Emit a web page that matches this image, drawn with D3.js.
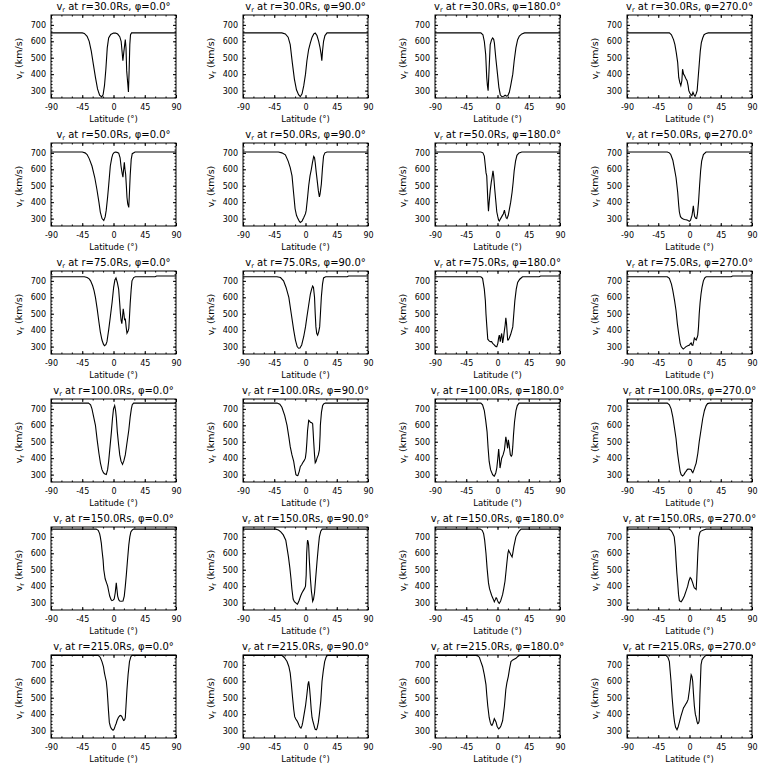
<!DOCTYPE html>
<html><head><meta charset="utf-8">
<script src="https://cdn.jsdelivr.net/npm/d3@7"></script>
<style>body{margin:0;background:#fff}text,tspan{font-family:"DejaVu Sans",sans-serif;fill:#000}</style>
</head><body>
<script>
const radii = [30, 50, 75, 100, 150, 215];
const phis = [0, 90, 180, 270];
const xTicks = [-90, -45, 0, 45, 90];
const yTicks = [300, 400, 500, 600, 700];
const yDomain = [255, 760];

// [latitude, v_r] pairs per panel
const v_r30_p0 = [[-90,651],[-45,651],[-42,648],[-38,630],[-35,600],[-32,540],[-29,460],[-26,380],[-23,310],[-20,272],[-17,262],[-15,275],[-13,330],[-11,430],[-9,560],[-7,620],[-4,642],[0,650],[3,650],[6,644],[9,628],[11,600],[12.5,530],[13.5,482],[15,540],[17,610],[18,560],[19,420],[20.5,345],[21.5,292],[22.5,420],[23.5,580],[24.5,640],[26,651],[90,651]];
const v_r30_p90 = [[-90,651],[-34,651],[-29,645],[-25,625],[-22,580],[-19,470],[-16,370],[-13,305],[-10,275],[-7.5,263],[-5,280],[-2.5,330],[0,400],[2,480],[4.5,550],[7,590],[9.5,625],[12,645],[14,650],[16.5,635],[19,600],[21,560],[22.5,520],[23.5,482],[24.5,540],[26,600],[28,635],[31,651],[90,651]];
const v_r30_p180 = [[-90,651],[-24,651],[-21,640],[-19,600],[-17,520],[-15.5,380],[-14.5,330],[-13.5,300],[-12,440],[-10.5,580],[-8.5,610],[-7,620],[-5.5,612],[-4.5,590],[-2.5,500],[0,400],[2,320],[4,275],[6,264],[9,266],[11,272],[13,266],[15,270],[17,290],[19,330],[22,400],[24,480],[26.5,560],[29,610],[31.5,632],[35,645],[39,651],[90,651]];
const v_r30_p270 = [[-90,651],[-29,651],[-26,640],[-23,610],[-21,580],[-19,530],[-17,470],[-15.5,380],[-14,350],[-12.5,330],[-11,360],[-10,430],[-8.5,400],[-7,390],[-5.5,375],[-3.5,360],[-2,330],[-1,300],[0.5,285],[2,275],[3.5,270],[5,290],[6.5,275],[8,265],[9.5,280],[11,300],[12.5,380],[14,460],[15.5,540],[17,590],[19,620],[21,640],[24,648],[27,651],[90,651]];

const v_r50_p0 = [[-90,705],[-45,705],[-41,700],[-38,690],[-35,665],[-31,620],[-27,550],[-24,480],[-21,400],[-19,340],[-16.5,300],[-14,288],[-12,310],[-10.5,350],[-8.5,430],[-7,500],[-4.6,620],[-2.5,670],[-1,692],[1,703],[3,705],[5,703],[7.5,698],[9.5,670],[10.8,620],[12.5,575],[13.6,552],[14.6,600],[15.6,642],[16.5,600],[17.5,570],[18.5,500],[19.4,430],[20.5,390],[22,368],[23,460],[24,560],[25.5,660],[27,695],[31,705],[90,705]];
const v_r50_p90 = [[-90,705],[-39,705],[-34,700],[-29,688],[-25,650],[-22,610],[-19.4,560],[-17,450],[-15,360],[-13,320],[-11,300],[-9,285],[-7.5,277],[-5,285],[-2.6,305],[0,330],[1,350],[3,430],[4.6,500],[6.5,560],[8.4,600],[10,640],[11.8,678],[13,670],[14,640],[15.5,580],[16.6,540],[18.5,470],[20,432],[21,450],[22.8,510],[24.5,610],[26,680],[28,700],[31,705],[90,705]];
const v_r50_p180 = [[-90,705],[-24,705],[-21,700],[-19,680],[-17.5,620],[-16.5,578],[-15.5,560],[-14,420],[-13,345],[-12,400],[-10.5,470],[-9,520],[-7.5,560],[-6.5,590],[-5.5,560],[-4,480],[-2.5,410],[-1,340],[0.5,310],[1.5,292],[2.6,286],[4.5,300],[6.5,315],[8.5,330],[10,352],[11,330],[12.5,305],[13.7,300],[15.5,320],[17,355],[19,400],[21,460],[22.5,520],[24,590],[26,650],[28,685],[31,700],[35,705],[90,705]];
const v_r50_p270 = [[-90,705],[-32,705],[-29,700],[-27,690],[-24,655],[-21.5,600],[-19.4,550],[-17,460],[-15.5,380],[-14.6,340],[-13,312],[-11,302],[-9,298],[-7.4,295],[-5,293],[-2.6,290],[-0.2,283],[1.5,290],[3.6,320],[4.5,345],[5.5,378],[6.5,340],[7.4,312],[9,302],[10.3,300],[11.5,330],[13,400],[14.5,500],[16,590],[17.5,650],[20,690],[23.8,705],[90,705]];

const v_r75_p0 = [[-90,725],[-42,725],[-38,720],[-35,712],[-33,700],[-30,670],[-28,640],[-26,600],[-23.5,530],[-21,450],[-19,390],[-16.6,340],[-14.5,315],[-13,305],[-11,312],[-9.4,330],[-7,400],[-4.6,480],[-2,570],[0.2,660],[2,705],[3.6,718],[5.5,690],[7.4,650],[9,560],[10,500],[11,460],[12,440],[13,480],[14,530],[15,500],[16,460],[17,470],[18.2,420],[19.4,382],[21,395],[22,410],[23,480],[24,560],[25.5,650],[26.6,700],[29,720],[31.4,725],[60,725],[62,730],[90,730]];
const v_r75_p90 = [[-90,725],[-41,725],[-36,720],[-31.6,700],[-28,660],[-24,600],[-20.5,500],[-17,400],[-14.5,340],[-12,300],[-10,290],[-8,292],[-5.5,310],[-2.6,360],[0,420],[2,480],[4.5,550],[7,620],[8.8,650],[10.3,668],[11.5,660],[13,600],[14,500],[15,420],[16.2,380],[17.5,370],[19,390],[20.4,420],[21.5,500],[22.8,600],[24.5,680],[26,718],[29,725],[60,725],[62,730],[90,730]];
const v_r75_p180 = [[-90,725],[-24,725],[-21.5,715],[-19,650],[-17.5,580],[-16.6,500],[-15.3,420],[-14,345],[-12,335],[-10.4,330],[-8.5,330],[-7,320],[-5,312],[-3.6,305],[-2,300],[-1,300],[0.5,320],[1.5,350],[2.6,370],[3.4,350],[4,330],[5,360],[6,380],[6.8,350],[7.4,322],[8.5,350],[10,400],[11,430],[12,475],[13,440],[14,380],[14.6,340],[15.6,340],[17,352],[19,375],[22,420],[23.5,500],[25,580],[27,650],[29,690],[32,710],[36,725],[60,725],[62,730],[90,730]];
const v_r75_p270 = [[-90,725],[-32,725],[-29,715],[-26,680],[-24,640],[-21.5,580],[-19.4,520],[-17.5,440],[-15.6,380],[-13.5,320],[-12,300],[-10.5,292],[-9,285],[-7,292],[-5,300],[-2.5,305],[0,310],[1.2,318],[2.4,322],[3.5,310],[4.8,308],[6,330],[7,352],[8.3,345],[9.6,340],[11,355],[12,370],[13,420],[14,500],[15.3,570],[16.6,620],[18,660],[20,700],[22,718],[24,725],[60,725],[62,730],[90,730]];

const v_r100_p0 = [[-90,735],[-36,735],[-33,725],[-31,700],[-28.5,650],[-26,600],[-23.5,510],[-21,430],[-18.8,370],[-16.6,330],[-14.5,312],[-13,305],[-10.4,300],[-8.5,330],[-7,380],[-5,470],[-3,560],[-1.5,640],[0,700],[1.7,720],[3,690],[4,650],[5.5,560],[7.4,480],[9,420],[10.8,382],[13,362],[15,385],[17,420],[19,480],[22,570],[24,650],[25.7,700],[27,725],[29,735],[90,735]];
const v_r100_p90 = [[-90,735],[-41,735],[-37,728],[-34,710],[-30,660],[-26.6,600],[-24,530],[-22,470],[-19.5,420],[-17,380],[-15.5,340],[-13.8,300],[-12,294],[-11,295],[-9,320],[-7.4,350],[-5.5,360],[-4,372],[-2,385],[-0.2,400],[1,440],[2,500],[3,570],[4.6,630],[6,625],[7,618],[9,615],[10.3,610],[11,560],[11.8,500],[13,420],[14,372],[15.2,380],[16.6,400],[18.5,420],[20,450],[21,540],[21.4,600],[23,680],[24.7,720],[26.5,732],[28.6,735],[90,735]];
const v_r100_p180 = [[-90,735],[-24,735],[-21.5,725],[-19,690],[-17,630],[-15,560],[-13.5,460],[-12,380],[-10,330],[-7,300],[-5.5,292],[-4.6,290],[-2.5,310],[-1,340],[0.5,400],[1.7,455],[2.7,400],[3.6,340],[4.5,360],[6,400],[8,420],[10,450],[11,490],[12,530],[13.2,500],[14.6,460],[15.6,512],[16.8,480],[18.5,420],[19.8,412],[21,420],[22,470],[23,540],[24.5,620],[26.6,690],[28.5,720],[31,735],[90,735]];
const v_r100_p270 = [[-90,735],[-32,735],[-29,725],[-26.5,700],[-24,650],[-21.5,580],[-19.4,520],[-17.5,440],[-15.6,380],[-13.5,320],[-12,300],[-10,292],[-8,300],[-6,315],[-5,320],[-3,332],[-1,334],[1,333],[2.4,330],[3.6,318],[4.8,312],[6.5,330],[8,350],[9.6,370],[12,430],[14,500],[16.5,570],[19,640],[21.5,690],[24,720],[26,732],[28.6,735],[90,735]];

const v_r150_p0 = [[-90,747],[-25,747],[-22,740],[-20,720],[-19,700],[-17.5,660],[-16.6,620],[-15,560],[-14,500],[-12,445],[-10,420],[-8.4,400],[-6.5,360],[-5.5,340],[-3.5,318],[-2.2,312],[-0.5,315],[1,322],[2.5,360],[4,420],[5,380],[6,340],[7.5,318],[8.9,310],[11,308],[13.7,310],[15.5,340],[17,400],[18.5,470],[20,550],[22,650],[23.5,700],[25,730],[27,742],[29,747],[90,747]];
const v_r150_p90 = [[-90,747],[-43,747],[-39,742],[-35.6,730],[-32,712],[-28.4,680],[-26.5,630],[-24.6,580],[-22.5,510],[-21,450],[-19.5,380],[-17.8,322],[-16,305],[-14,298],[-12.5,292],[-11.6,290],[-9.5,310],[-7,340],[-5.5,355],[-3.6,370],[-1.5,385],[0,400],[1,470],[1.7,600],[2.5,660],[3,680],[3.8,670],[4.5,650],[5.5,560],[7,450],[8.5,370],[9.4,340],[10.3,308],[11.5,320],[13,360],[14.5,440],[16.6,550],[18.5,640],[20,700],[22,735],[24,747],[90,747]];
const v_r150_p180 = [[-90,747],[-25,747],[-22,740],[-20,720],[-18.5,680],[-16.6,600],[-15,510],[-13,420],[-11.5,385],[-10.4,370],[-8.5,345],[-7,330],[-5.5,315],[-4.6,305],[-3.2,318],[-2,330],[-1,325],[0,312],[1.5,300],[2.6,295],[4.5,310],[6,330],[7.4,350],[9,385],[10.8,430],[12.5,500],[13.7,550],[15,600],[16,618],[17,610],[18.2,600],[19.4,590],[21,578],[22,600],[23.5,640],[25,670],[26.5,700],[29,720],[31.5,737],[34,747],[90,747]];
const v_r150_p270 = [[-90,747],[-30,747],[-27,740],[-24.5,725],[-22,700],[-20.5,640],[-19.4,560],[-18.2,480],[-17,420],[-15.8,350],[-14.6,312],[-13,307],[-12,305],[-10,318],[-7.4,340],[-5,370],[-2.6,400],[-1,430],[1,452],[2.5,445],[4.6,420],[6,400],[7,390],[8.5,385],[9.6,380],[10.5,450],[12,600],[13.4,700],[15,728],[16.6,735],[20,742],[24,747],[90,747]];

const v_r215_p0 = [[-90,758],[-22,758],[-19,745],[-16.6,720],[-14.5,690],[-13,650],[-11.5,620],[-10.4,600],[-9.2,550],[-8.4,500],[-7.2,420],[-6,350],[-4.5,325],[-3,312],[-1.5,305],[-0.6,302],[1,310],[2.6,330],[4,345],[5,360],[7,380],[8.9,390],[10.5,392],[12,385],[13.5,370],[14.6,362],[16,365],[17,380],[18,450],[19.4,550],[21,640],[23,720],[25,750],[26.6,758],[90,758]];
const v_r215_p90 = [[-90,758],[-34,758],[-30.5,745],[-28,730],[-26.6,720],[-24,690],[-22,650],[-20.5,590],[-18.6,500],[-17,430],[-15.6,385],[-14,370],[-12,358],[-10.5,345],[-9,330],[-7.5,318],[-6.5,315],[-5,330],[-4,350],[-2,400],[0,450],[2,520],[3.5,580],[4.6,600],[5.8,560],[7,500],[8.2,430],[9.4,380],[10.5,360],[11.8,340],[13,320],[14,308],[15.5,305],[16.6,312],[18.5,350],[20,400],[22,480],[23.8,600],[25.5,660],[27.6,720],[29.5,745],[31,758],[90,758]];
const v_r215_p180 = [[-90,758],[-29,758],[-26,745],[-24,720],[-21.5,690],[-19,640],[-16.6,580],[-15.5,520],[-14,450],[-12,380],[-10.4,350],[-9,335],[-8,332],[-6.5,345],[-4.6,372],[-3,360],[-2,350],[-0.5,325],[1.7,310],[3.5,318],[5,330],[7.4,360],[8.5,400],[10,450],[11,500],[12,550],[13.5,590],[15.6,630],[17.5,680],[19.4,720],[22,730],[26.6,740],[29,750],[31,758],[90,758]];
const v_r215_p270 = [[-90,758],[-34,758],[-31,745],[-29,720],[-27.8,660],[-26.6,600],[-25,500],[-23,400],[-21.5,350],[-20,320],[-18,305],[-16.5,320],[-14.6,350],[-12.5,385],[-10,420],[-8.5,440],[-7.4,446],[-5.5,460],[-4,470],[-2,490],[0,550],[1.2,600],[2.4,640],[3.5,630],[4.6,600],[5.8,520],[7,450],[8.4,400],[9.6,380],[10.8,355],[11.8,342],[13,345],[14,360],[15,520],[16.6,700],[18,730],[20,742],[22,752],[24,758],[90,758]];

const curveRows = [
  [v_r30_p0, v_r30_p90, v_r30_p180, v_r30_p270],
  [v_r50_p0, v_r50_p90, v_r50_p180, v_r50_p270],
  [v_r75_p0, v_r75_p90, v_r75_p180, v_r75_p270],
  [v_r100_p0, v_r100_p90, v_r100_p180, v_r100_p270],
  [v_r150_p0, v_r150_p90, v_r150_p180, v_r150_p270],
  [v_r215_p0, v_r215_p90, v_r215_p180, v_r215_p270]
];

const W = 768, H = 768, cellW = 192, cellH = 128;
const m = {l: 51, t: 15, w: 125, h: 83};
const svg = d3.select("body").append("svg").attr("width", W).attr("height", H);
svg.append("rect").attr("width", W).attr("height", H).attr("fill", "#fff");

const x = d3.scaleLinear().domain([-90, 90]).range([0, m.w]);
const y = d3.scaleLinear().domain(yDomain).range([m.h, 0]);
const xMinor = d3.range(-90, 91, 15);
const yMinor = d3.range(260, 761, 20);
const line = d3.line().x(d => x(d[0])).y(d => y(d[1]));
const fmt = d => (d < 0 ? "-" : "") + Math.abs(d);

radii.forEach((r, ri) => {
  phis.forEach((p, ci) => {
    const g = svg.append("g").attr("transform", `translate(${ci * cellW + m.l},${ri * cellH + m.t})`);
    const clean = s => { s.select(".domain").remove(); s.selectAll("line").attr("stroke", "#000"); };
    g.append("g").attr("transform", `translate(0,${m.h})`)
      .call(d3.axisBottom(x).tickValues(xTicks).tickSize(-3).tickPadding(6.5).tickFormat(fmt))
      .call(clean).call(s => s.selectAll("text").attr("font-size", "8px").attr("font-family", "DejaVu Sans"));
    g.append("g").attr("transform", `translate(0,${m.h})`)
      .call(d3.axisBottom(x).tickValues(xMinor).tickSize(-1.5).tickFormat("")).call(clean);
    g.append("g").call(d3.axisTop(x).tickValues(xTicks).tickSize(-3).tickFormat("")).call(clean);
    g.append("g").call(d3.axisTop(x).tickValues(xMinor).tickSize(-1.5).tickFormat("")).call(clean);
    g.append("g")
      .call(d3.axisLeft(y).tickValues(yTicks).tickSize(-3).tickPadding(5).tickFormat(d3.format("d")))
      .call(clean).call(s => s.selectAll("text").attr("font-size", "8px").attr("font-family", "DejaVu Sans"));
    g.append("g").call(d3.axisLeft(y).tickValues(yMinor).tickSize(-1.5).tickFormat("")).call(clean);
    g.append("g").attr("transform", `translate(${m.w},0)`)
      .call(d3.axisRight(y).tickValues(yTicks).tickSize(-3).tickFormat("")).call(clean);
    g.append("g").attr("transform", `translate(${m.w},0)`)
      .call(d3.axisRight(y).tickValues(yMinor).tickSize(-1.5).tickFormat("")).call(clean);
    g.append("rect").attr("x", 0).attr("y", 0).attr("width", m.w).attr("height", m.h)
      .attr("fill", "none").attr("stroke", "#000").attr("stroke-width", 1);
    g.append("path").datum(curveRows[ri][ci]).attr("d", line)
      .attr("fill", "none").attr("stroke", "#000").attr("stroke-width", 1.1);
    const t = g.append("text").attr("x", m.w / 2).attr("y", -5).attr("text-anchor", "middle")
      .attr("font-size", "10px").attr("font-family", "DejaVu Sans").attr("fill", "#000");
    t.append("tspan").text("v");
    t.append("tspan").attr("font-size", "6.5px").attr("dy", 2).text("r");
    t.append("tspan").attr("dy", -2).text(` at r=${r.toFixed(1)}Rs, `);
    t.append("tspan").attr("font-family", "DejaVu Sans").attr("fill", "#000").text("\u03C6");
    t.append("tspan").text(`=${p.toFixed(1)}°`);
    g.append("text").attr("x", m.w / 2).attr("y", m.h + 23.5).attr("text-anchor", "middle")
      .attr("font-size", "8.5px").text("Latitude (°)");
    const yl = g.append("text").attr("transform", `translate(-29,${m.h / 2 + 2}) rotate(-90)`)
      .attr("text-anchor", "middle").attr("font-size", "9.5px");
    yl.append("tspan").text("v");
    yl.append("tspan").attr("font-size", "6.5px").attr("dy", 2).text("r");
    yl.append("tspan").attr("dy", -2).text(" (km/s)");
  });
});
</script>
</body></html>
